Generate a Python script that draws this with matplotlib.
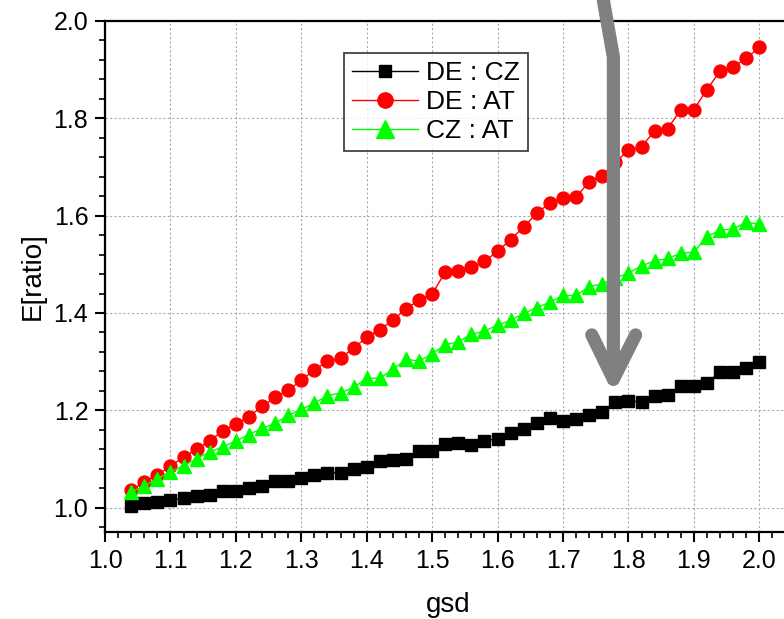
import matplotlib
matplotlib.use("Agg")
import matplotlib.pyplot as plt
import numpy as np
from matplotlib.ticker import MultipleLocator

plt.rcParams['font.family'] = ['Liberation Sans', 'DejaVu Sans']

gsd = [1.04, 1.06, 1.08, 1.10, 1.12, 1.14, 1.16, 1.18, 1.20, 1.22,
       1.24, 1.26, 1.28, 1.30, 1.32, 1.34, 1.36, 1.38, 1.40, 1.42,
       1.44, 1.46, 1.48, 1.50, 1.52, 1.54, 1.56, 1.58, 1.60, 1.62,
       1.64, 1.66, 1.68, 1.70, 1.72, 1.74, 1.76, 1.78, 1.80, 1.82,
       1.84, 1.86, 1.88, 1.90, 1.92, 1.94, 1.96, 1.98, 2.00]

de_cz = [1.004, 1.009, 1.012, 1.015, 1.020, 1.023, 1.027, 1.034, 1.034, 1.040,
         1.044, 1.054, 1.054, 1.061, 1.068, 1.072, 1.072, 1.079, 1.084, 1.095,
         1.098, 1.101, 1.116, 1.116, 1.130, 1.133, 1.128, 1.137, 1.142, 1.153,
         1.161, 1.173, 1.184, 1.178, 1.182, 1.190, 1.196, 1.218, 1.219, 1.218,
         1.230, 1.232, 1.249, 1.249, 1.257, 1.278, 1.278, 1.288, 1.299]

de_at = [1.036, 1.052, 1.068, 1.085, 1.104, 1.120, 1.137, 1.158, 1.172, 1.187,
         1.208, 1.227, 1.241, 1.262, 1.283, 1.301, 1.307, 1.328, 1.350, 1.366,
         1.385, 1.409, 1.426, 1.439, 1.484, 1.486, 1.494, 1.506, 1.527, 1.551,
         1.577, 1.605, 1.626, 1.637, 1.638, 1.670, 1.682, 1.710, 1.734, 1.742,
         1.774, 1.779, 1.818, 1.818, 1.859, 1.897, 1.906, 1.923, 1.946]

cz_at = [1.032, 1.045, 1.059, 1.074, 1.086, 1.101, 1.114, 1.125, 1.137, 1.150,
         1.163, 1.173, 1.190, 1.202, 1.215, 1.230, 1.236, 1.247, 1.266, 1.266,
         1.284, 1.305, 1.301, 1.316, 1.335, 1.341, 1.356, 1.363, 1.375, 1.385,
         1.399, 1.411, 1.422, 1.436, 1.436, 1.454, 1.460, 1.472, 1.482, 1.497,
         1.507, 1.512, 1.523, 1.525, 1.557, 1.570, 1.573, 1.586, 1.583]

# gray arrow annotation (data coordinates)
arrow_x = [1.759, 1.777, 1.777]
arrow_y = [2.063, 1.926, 1.264]
head_x = [1.744, 1.777, 1.811]
head_y = [1.355, 1.264, 1.355]

fig = plt.figure(figsize=(7.84, 6.19), dpi=100)
ax = fig.add_axes([105/784, 1 - 532/619, 687/784, (532 - 21)/619])

ax.plot(gsd, de_cz, color='black', lw=1, marker='s', ms=8.2, label='DE : CZ')
ax.plot(gsd, de_at, color='red', lw=1, marker='o', ms=9.3, label='DE : AT')
ax.plot(gsd, cz_at, color='#00ff00', lw=1, marker='^', ms=10.5, label='CZ : AT')

ax.plot(arrow_x, arrow_y, color='gray', lw=9.5, solid_capstyle='round',
        solid_joinstyle='round', clip_on=False, zorder=5)
ax.plot(head_x, head_y, color='gray', lw=9.5, solid_capstyle='round',
        solid_joinstyle='round', clip_on=False, zorder=5)

ax.set_xlim(1.0, 2.05)
ax.set_ylim(0.95, 2.0)
ax.xaxis.set_major_locator(MultipleLocator(0.1))
ax.xaxis.set_minor_locator(MultipleLocator(0.02))
ax.yaxis.set_major_locator(MultipleLocator(0.2))
ax.yaxis.set_minor_locator(MultipleLocator(0.04))
ax.grid(True, which='major', color='#aaaaaa', ls=(0, (2, 2)), lw=0.8)
ax.set_axisbelow(True)

for s in ax.spines.values():
    s.set_linewidth(1.6)
ax.tick_params(which='major', direction='out', length=7, width=1.5,
               labelsize=18, pad=5)
ax.tick_params(which='minor', direction='out', length=4.5, width=1.2)

ax.set_xlabel('gsd', fontsize=20, labelpad=14)
ax.set_ylabel('E[ratio]', fontsize=20, labelpad=6)

leg = ax.legend(loc='upper left', bbox_to_anchor=(344/784, 1 - 53/619),
                bbox_transform=fig.transFigure, fontsize=19, frameon=True,
                fancybox=False, handlelength=2.5, handletextpad=0.3,
                labelspacing=0.2, borderpad=0.3, borderaxespad=0)
leg.get_frame().set_edgecolor('black')
leg.get_frame().set_linewidth(1.2)
# legend symbols are drawn a bit larger than the plot markers
for h, size in zip(leg.legend_handles, [8.6, 11.0, 13.0]):
    h.set_markersize(size)

fig.savefig('out.png', dpi=100)
